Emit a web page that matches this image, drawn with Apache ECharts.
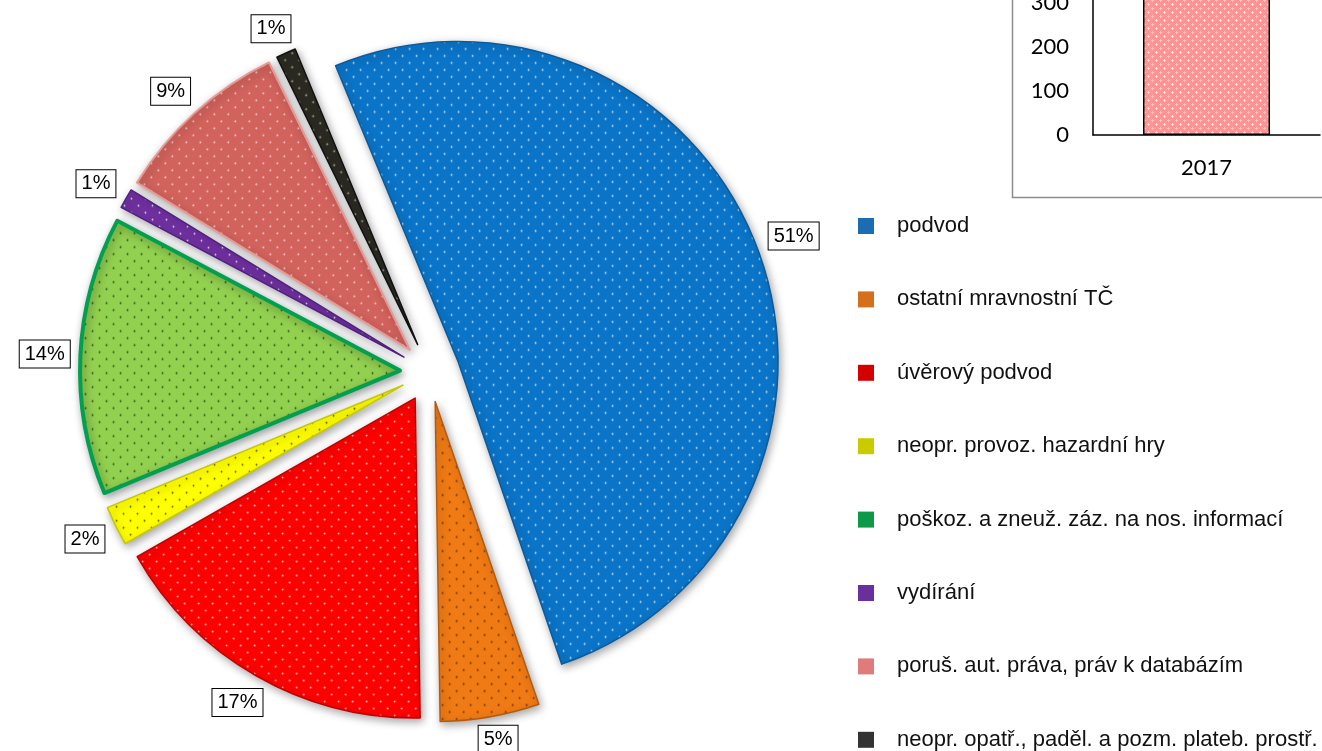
<!DOCTYPE html>
<html>
<head>
<meta charset="utf-8">
<script src="https://cdn.jsdelivr.net/npm/echarts@6/dist/echarts.min.js"></script>
<style>
  html, body { margin: 0; padding: 0; background: #fff; }
  #chart { width: 1322px; height: 751px; }
</style>
</head>
<body>
<div id="chart"></div>
<script>
// Offence types and their share of cases (%)
const categories = [
  'podvod',
  'ostatní mravnostní TČ',
  'úvěrový podvod',
  'neopr. provoz. hazardní hry',
  'poškoz. a zneuž. záz. na nos. informací',
  'vydírání',
  'poruš. aut. práva, práv k databázím',
  'neopr. opatř., paděl. a pozm. plateb. prostř.'
];
const shares = [51, 5, 17, 2, 14, 1, 9, 1];

// Small yearly totals chart in the corner
const years = ['2017'];
const yearTotals = [380];

// Slice fills, dot colours, edge colours, legend swatches
const sliceFill   = ['#0a74c8', '#f07a14', '#ff0000', '#ffff00', '#92d050', '#7030a0', '#d2625c', '#2b2a22'];
const sliceDots   = ['rgba(255,255,255,0.85)', 'rgba(60,30,0,0.8)', 'rgba(255,255,255,0.8)', 'rgba(60,60,0,0.85)',
                     'rgba(20,50,10,0.85)', 'rgba(255,255,255,0.8)', 'rgba(255,235,235,0.85)', 'rgba(230,230,190,0.8)'];
const sliceEdge   = ['#0a5a9c', '#b45a10', '#c00000', '#c8c800', '#00a050', '#502080', '#e89a96', '#111111'];
const sliceEdgeW  = [1.5, 1.5, 1.5, 1.5, 4, 1.5, 2, 1.5];
const legendSwatch = ['#1a6db2', '#d4701c', '#d40000', '#caca00', '#0c9a4a', '#6a2f9a', '#e07b7b', '#333333'];

const FONT = '"Liberation Sans", Arial, sans-serif';
const START_ANGLE = 112.5;
const LABEL_LINE = 14;

// Fill with a staggered grid of small dots
function dotted(base, dot) {
  const c = document.createElement('canvas');
  c.width = 14; c.height = 14;
  const g = c.getContext('2d');
  g.fillStyle = base; g.fillRect(0, 0, 14, 14);
  g.fillStyle = dot;
  g.beginPath(); g.arc(3.5, 3.5, 0.9, 0, Math.PI * 2); g.fill();
  g.beginPath(); g.arc(10.5, 10.5, 0.9, 0, Math.PI * 2); g.fill();
  return { image: c, repeat: 'repeat' };
}

function crossHatch() {
  const c = document.createElement('canvas');
  c.width = 8; c.height = 8;
  const g = c.getContext('2d');
  g.fillStyle = '#ff9494'; g.fillRect(0, 0, 8, 8);
  g.fillStyle = '#ffe2e2';
  [[4,3],[3,4],[4,4],[5,4],[4,5]].forEach(p => g.fillRect(p[0], p[1], 1, 1));
  g.fillStyle = '#ffc4c4';
  [[0,0],[1,0],[7,0],[0,1],[0,7]].forEach(p => g.fillRect(p[0], p[1], 1, 1));
  return { image: c, repeat: 'repeat' };
}

// Bisector direction of every slice (screen coordinates, y down)
const total = shares.reduce((a, b) => a + b, 0);
let running = 0;
const bisectors = shares.map(v => {
  const mid = (START_ANGLE - (running + v / 2) / total * 360) * Math.PI / 180;
  running += v;
  return [Math.cos(mid), -Math.sin(mid)];
});

// The library anchors the boxed label's near edge at the end of the radial line;
// move it so the box centre sits just beyond the rim along the bisector.
function nudgeLabel(params) {
  const u = bisectors[params.dataIndex];
  if (!u || !params.labelRect) return {};
  const w = params.labelRect.width, h = params.labelRect.height, gap = 5;
  const d = gap + (w / 2) * Math.abs(u[0]) + (h / 2) * Math.abs(u[1]);
  return {
    dx: u[0] * d - LABEL_LINE * u[0] - Math.sign(u[0]) * w / 2,
    dy: u[1] * d - LABEL_LINE * u[1]
  };
}

const pieData = categories.map((name, i) => ({
  name: name,
  value: shares[i],
  selected: true,
  itemStyle: {
    color: dotted(sliceFill[i], sliceDots[i]),
    borderColor: sliceEdge[i],
    borderWidth: sliceEdgeW[i]
  }
}));

const chart = echarts.init(document.getElementById('chart'), null, { renderer: 'canvas' });

chart.setOption({
  animation: false,
  backgroundColor: '#fff',
  graphic: [{
    type: 'rect',
    z: -1,
    shape: { x: 1012.5, y: -20, width: 400, height: 217.5 },
    style: { fill: 'none', stroke: '#8c8c8c', lineWidth: 1.5 }
  }],
  legend: {
    orient: 'vertical',
    left: 858,
    top: 215,
    height: 540,
    padding: 0,
    itemWidth: 16,
    itemHeight: 16,
    itemGap: 51.4,
    icon: 'rect',
    selectedMode: false,
    textStyle: { fontFamily: FONT, fontSize: 22, color: '#111', padding: [0, 0, 0, 18] },
    data: categories.map((n, i) => ({ name: n, itemStyle: { color: legendSwatch[i], borderWidth: 0 } }))
  },
  grid: { left: 1093, right: 2, top: -41, bottom: 616, outerBoundsMode: 'none', containLabel: false },
  xAxis: {
    type: 'category',
    data: years,
    axisLine: { lineStyle: { color: '#000', width: 1.5 } },
    axisTick: { show: false },
    axisLabel: { fontFamily: 'Lato, sans-serif', fontSize: 22, color: '#000', margin: 22 }
  },
  yAxis: {
    type: 'value',
    min: 0, max: 400, interval: 100,
    axisLine: { show: true, lineStyle: { color: '#000', width: 1.5 } },
    axisTick: { show: false },
    splitLine: { show: false },
    axisLabel: { fontFamily: 'Lato, sans-serif', fontSize: 22, color: '#000', margin: 24 }
  },
  series: [
    {
      type: 'pie',
      center: [430, 372],
      radius: 320,
      startAngle: START_ANGLE,
      clockwise: true,
      selectedMode: 'multiple',
      selectedOffset: 30,
      avoidLabelOverlap: false,
      emphasis: { disabled: true },
      itemStyle: {
        shadowBlur: 8,
        shadowColor: 'rgba(0,0,0,0.35)',
        shadowOffsetX: 2,
        shadowOffsetY: 3
      },
      label: {
        show: true,
        position: 'outside',
        alignTo: 'none',
        formatter: '{c}%',
        fontFamily: FONT,
        fontSize: 20,
        lineHeight: 22,
        color: '#000',
        backgroundColor: '#fff',
        borderColor: '#000',
        borderWidth: 1,
        padding: [3, 5, 2, 5]
      },
      labelLine: { show: false, length: LABEL_LINE, length2: 0 },
      labelLayout: nudgeLabel,
      data: pieData
    },
    {
      type: 'bar',
      data: yearTotals,
      barWidth: 127,
      itemStyle: { color: crossHatch(), borderColor: '#000', borderWidth: 1.5 },
      emphasis: { disabled: true }
    }
  ]
});
</script>
</body>
</html>
